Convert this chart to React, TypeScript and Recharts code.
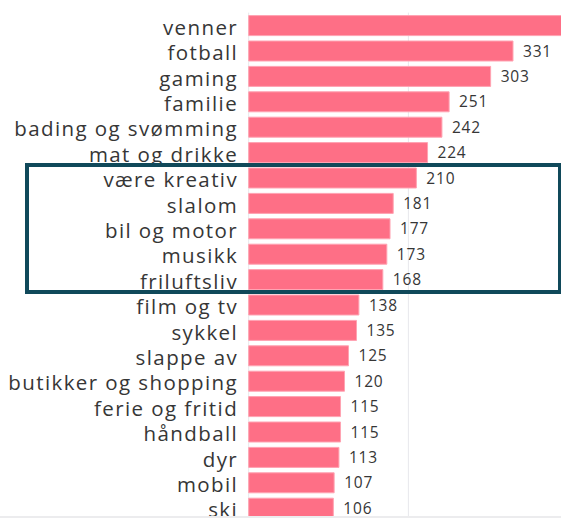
import { BarChart, Bar, XAxis, YAxis, CartesianGrid, LabelList } from 'recharts';

// categories top to bottom
const categories = [
  'venner',
  'fotball',
  'gaming',
  'familie',
  'bading og svømming',
  'mat og drikke',
  'være kreativ',
  'slalom',
  'bil og motor',
  'musikk',
  'friluftsliv',
  'film og tv',
  'sykkel',
  'slappe av',
  'butikker og shopping',
  'ferie og fritid',
  'håndball',
  'dyr',
  'mobil',
  'ski',
];
const counts = [410, 331, 303, 251, 242, 224, 210, 181, 177, 173, 168, 138, 135, 125, 120, 115, 115, 113, 107, 106];
const xTicks = [0, 200, 400];

const data = categories.map((name, i) => ({ name, value: counts[i] }));

const FONT = '"Open Sans", Lato, sans-serif';
const TEXT = '#363636';

// eslint-disable-next-line @typescript-eslint/no-explicit-any
function CategoryTick(props: any) {
  const { x, y, payload } = props;
  return (
    <text
      x={x}
      y={y}
      dy={9.5}
      textAnchor="end"
      fill={TEXT}
      fontFamily={FONT}
      fontSize={20.5}
      letterSpacing={1.4}
    >
      {payload.value}
    </text>
  );
}

export default function App() {
  return (
    <div
      style={{
        position: 'fixed',
        top: 0,
        left: 0,
        width: 561,
        height: 518,
        overflow: 'hidden',
        background: '#fff',
      }}
    >
      <BarChart
        width={608}
        height={521}
        data={data}
        layout="vertical"
        margin={{ top: 12.6, right: 0, left: 0, bottom: 0.4 }}
      >
        <CartesianGrid horizontal={false} stroke="#e7e8ec" />
        <XAxis type="number" domain={[0, 450]} ticks={xTicks} hide />
        <YAxis
          type="category"
          dataKey="name"
          width={248.7}
          axisLine={false}
          tickLine={false}
          tickMargin={4.6}
          interval={0}
          tick={<CategoryTick />}
        />
        <Bar
          dataKey="value"
          fill="#fe6f86"
          stroke="#ffa3b2"
          strokeWidth={1}
          barSize={20}
          isAnimationActive={false}
        >
          <LabelList
            dataKey="value"
            position="right"
            offset={10}
            fill={TEXT}
            fontFamily={FONT}
            fontSize={15.5}
            letterSpacing={0.8}
          />
        </Bar>
      </BarChart>
      {/* highlight box around rows 7-11 */}
      <div
        style={{
          position: 'absolute',
          left: 25,
          top: 163,
          width: 529,
          height: 123,
          border: '4px solid #10495a',
        }}
      />
      <div
        style={{
          position: 'absolute',
          left: 0,
          top: 516,
          width: 561,
          height: 2,
          background: '#ececee',
        }}
      />
    </div>
  );
}
